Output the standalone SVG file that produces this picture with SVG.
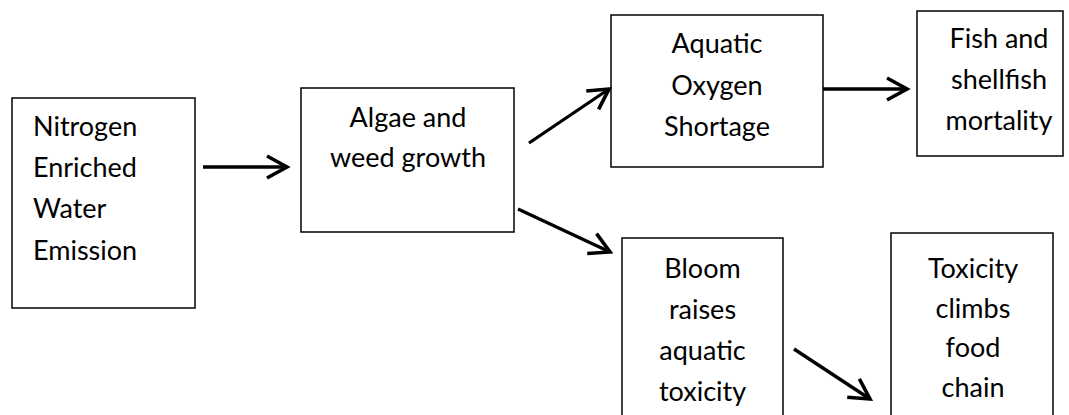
<svg xmlns="http://www.w3.org/2000/svg" width="1069" height="415" viewBox="0 0 1069 415">
  <style>
    .box { fill: #ffffff; stroke: #000000; stroke-width: 1.5; }
    .lbl { font-family: Lato, "Open Sans", "Liberation Sans", sans-serif; font-size: 27px; fill: #000000; }
    .c { text-anchor: middle; }
    .link { fill: none; stroke: #000000; stroke-width: 3.3; marker-end: url(#chev); }
  </style>
  <defs>
    <marker id="chev" markerUnits="userSpaceOnUse" markerWidth="30" markerHeight="30" viewBox="-25 -15 30 30" refX="0" refY="0" orient="auto" overflow="visible">
      <path d="M-20,-11 L0,0 L-20,11" fill="none" stroke="#000000" stroke-width="3.6" stroke-linejoin="miter"/>
    </marker>
  </defs>
  <rect width="1069" height="415" fill="#ffffff"/>

  <g id="node-nitrogen">
    <rect class="box" x="12" y="98" width="183" height="210"/>
    <text class="lbl" x="33" y="136">Nitrogen</text>
    <text class="lbl" x="33" y="177">Enriched</text>
    <text class="lbl" x="33" y="218">Water</text>
    <text class="lbl" x="33" y="260">Emission</text>
  </g>

  <g id="node-algae">
    <rect class="box" x="301" y="88" width="213" height="144"/>
    <text class="lbl c" x="408" y="127">Algae and</text>
    <text class="lbl c" x="408" y="167">weed growth</text>
  </g>

  <g id="node-oxygen">
    <rect class="box" x="611" y="15" width="212" height="152"/>
    <text class="lbl c" x="717" y="53">Aquatic</text>
    <text class="lbl c" x="717" y="95">Oxygen</text>
    <text class="lbl c" x="717" y="136">Shortage</text>
  </g>

  <g id="node-fish">
    <rect class="box" x="917" y="11" width="146" height="145"/>
    <text class="lbl c" x="999" y="48">Fish and</text>
    <text class="lbl c" x="999" y="89">shellfish</text>
    <text class="lbl c" x="999" y="130">mortality</text>
  </g>

  <g id="node-bloom">
    <rect class="box" x="622" y="238" width="161" height="190"/>
    <text class="lbl c" x="702.5" y="278">Bloom</text>
    <text class="lbl c" x="702.5" y="319">raises</text>
    <text class="lbl c" x="702.5" y="360">aquatic</text>
    <text class="lbl c" x="702.5" y="401">toxicity</text>
  </g>

  <g id="node-foodchain">
    <rect class="box" x="891" y="233" width="162" height="195"/>
    <text class="lbl c" x="973" y="278">Toxicity</text>
    <text class="lbl c" x="973" y="318">climbs</text>
    <text class="lbl c" x="973" y="357">food</text>
    <text class="lbl c" x="973" y="397">chain</text>
  </g>

  <g id="connectors">
    <path class="link" d="M203,167 L287,167"/>
    <path class="link" d="M529,143 L609,89"/>
    <path class="link" d="M518,209 L610,252"/>
    <path class="link" d="M823,89 L907,89"/>
    <path class="link" d="M794,349 L870,399"/>
  </g>
</svg>
